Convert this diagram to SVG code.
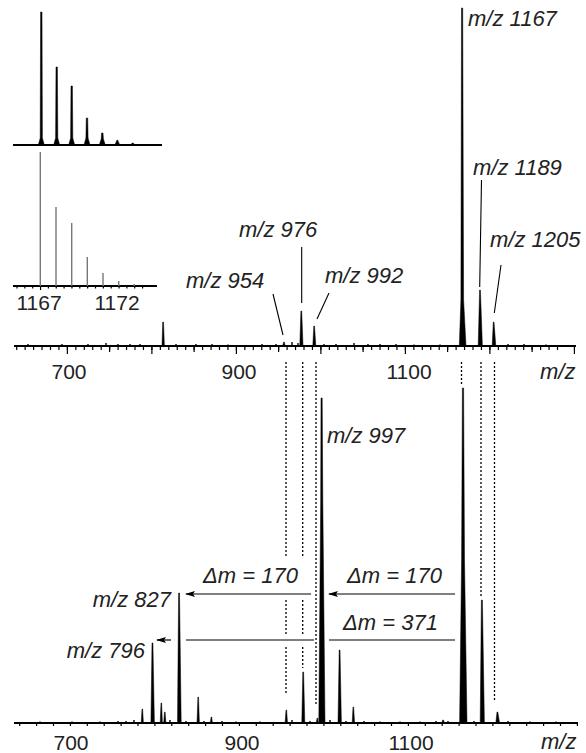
<svg xmlns="http://www.w3.org/2000/svg" width="586" height="753" viewBox="0 0 586 753">
<defs>
<style>
.ax{stroke:#000;stroke-width:1.8;fill:none}
.tk{stroke:#000;stroke-width:1.2;fill:none}
.pk{fill:#000;stroke:#000;stroke-width:0.5;stroke-linejoin:round}
.ln{stroke:#000;stroke-width:1.4;fill:none}
.ld{stroke:#000;stroke-width:1.1;fill:none}
.dot{stroke:#000;stroke-width:1.3;stroke-dasharray:2 2;fill:none}
.arr{stroke:#000;stroke-width:1.2;fill:none}
.gp{stroke:#777;stroke-width:1.4;fill:none}
.num{font-family:"Liberation Sans",Arial,sans-serif;font-size:21px;fill:#222}
.lab{font-family:"Liberation Sans",Arial,sans-serif;font-size:22px;font-style:italic;fill:#222}
</style>
<marker id="ah" viewBox="0 0 10 6" refX="9" refY="3" markerWidth="10" markerHeight="6" markerUnits="userSpaceOnUse" orient="auto">
<path d="M0,0 L10,3 L0,6 L2,3 Z" fill="#000"/>
</marker>
</defs>
<rect width="586" height="753" fill="#fff"/>

<g id="inset">
<line class="ax" x1="13" y1="145" x2="162" y2="145" stroke-width="2"/>
<path class="pk" d="M38.3,145 L40.2,138 L40.6,12 L42,12 L42.4,138 L44.3,145Z M53.7,145 L55.6,138 L56,67 L57.4,67 L57.8,138 L59.7,145Z M68.7,145 L70.6,138 L71,86 L72.4,86 L72.8,138 L74.7,145Z M84,145 L85.9,138 L86.3,118 L87.7,118 L88.1,138 L90,145Z M99.3,145 L101.2,139 L101.6,133 L103,133 L103.4,139 L105.3,145Z M114.8,145 L116.6,141 L117,140 L117.6,140 L118,141 L119.8,145Z M130.5,145 L132.2,143 L133.2,143 L134.9,145Z"/>
<line class="ax" x1="13" y1="286" x2="157" y2="286" stroke-width="1.5"/>
<path class="tk" d="M17,286v2.5m7.85-2.5v2.5m7.85-2.5v2.5m7.85-2.5v4m7.85-4v2.5m7.85-2.5v2.5m7.85-2.5v2.5m7.85-2.5v2.5m7.85-2.5v2.5m7.85-2.5v2.5m7.85-2.5v2.5m7.85-2.5v2.5m7.85-2.5v2.5m7.85-2.5v2.5m7.85-2.5v2.5m7.85-2.5v2.5m7.85-2.5v2.5"/>
<path class="gp" d="M40.3,286V152 M56,286V207 M71.7,286V223 M87.3,286V257 M103,286V273 M118.7,286V281 M134.3,286V284"/>
<text class="num" x="39" y="310" text-anchor="middle">1167</text>
<text class="num" x="117" y="310" text-anchor="middle">1172</text>
</g>

<g id="top-spectrum">
<line class="ax" x1="14" y1="346" x2="576" y2="346"/>
<path class="tk" d="M16.7,346v4m8.45-4v4m8.45-4v4m8.45-4v4m8.45-4v4m8.45-4v4m8.45-4v4m8.45-4v4m8.45-4v4m8.45-4v4m8.45-4v4m8.45-4v4m8.45-4v4m8.45-4v4m8.45-4v4m8.45-4v4m8.45-4v4m8.45-4v4m8.45-4v4m8.45-4v4m8.45-4v4m8.45-4v4m8.45-4v4m8.45-4v4m8.45-4v4m8.45-4v4m8.45-4v4m8.45-4v4m8.45-4v4m8.45-4v4m8.45-4v4m8.45-4v4m8.45-4v4m8.45-4v4m8.45-4v4m8.45-4v4m8.45-4v4m8.45-4v4m8.45-4v4m8.45-4v4m8.45-4v4m8.45-4v4m8.45-4v4m8.45-4v4m8.45-4v4m8.45-4v4m8.45-4v4m8.45-4v4m8.45-4v4m8.45-4v4m8.45-4v4m8.45-4v4m8.45-4v4m8.45-4v4m8.45-4v4m8.45-4v4m8.45-4v4m8.45-4v4m8.45-4v4m8.45-4v4m8.45-4v4m8.45-4v4m8.45-4v4m8.45-4v4m8.45-4v4"/>
<path class="tk" d="M67.4,346v8 M151.9,346v8 M236.4,346v8 M320.9,346v8 M405.4,346v8 M489.9,346v8 M574.4,346v8 M109.6,346v6 M194.1,346v6 M278.6,346v6 M363.1,346v6 M447.6,346v6 M532.1,346v6"/>
<path class="ln" d="M28,346v-2 M62,346v-2 M88,346v-2 M106,346v-3 M118,346v-2 M130,346v-2 M140,346v-2 M176,346v-2 M196,346v-2 M212,346v-2 M228,346v-1.5 M262,346v-2 M276,346v-2 M292,346v-4 M298,346v-3 M324,346v-2 M336,346v-2 M354,346v-3 M368,346v-2 M380,346v-2 M396,346v-2 M414,346v-1.5 M440,346v-1.5 M508,346v-2 M524,346v-2 M546,346v-1.5"/>
<path class="pk" d="M162,346 L162.7,322 L163.5,322 L164.4,346Z M282.6,346 L283.7,342 L284.3,342 L285.2,346Z M299.8,346 L300.9,311 L301.7,311 L303,346Z M312.8,346 L313.8,326 L314.5,326 L315.8,346Z M459.3,346 L460.9,300 L461.5,8 L462.7,8 L463.6,300 L466,346Z M478.2,346 L479.6,290 L480.4,290 L482.4,346Z M492.2,346 L493.3,322 L494,322 L495.8,346Z"/>
<path class="ld" d="M273,294 L283,335 M301.7,247 L301.7,303 M329,293 L317,319 M481.5,180 L479.7,287 M501,265 L494.3,313"/>
<text class="lab" x="468" y="26">m/z 1167</text>
<text class="lab" x="473" y="175">m/z 1189</text>
<text class="lab" x="490" y="247">m/z 1205</text>
<text class="lab" x="239" y="237">m/z 976</text>
<text class="lab" x="325" y="283">m/z 992</text>
<text class="lab" x="186" y="288">m/z 954</text>
<text class="num" x="69" y="379" text-anchor="middle">700</text>
<text class="num" x="239" y="379" text-anchor="middle">900</text>
<text class="num" x="409" y="379" text-anchor="middle">1100</text>
<text class="lab" x="540" y="379" font-size="21">m/z</text>
</g>

<g id="connectors">
<path class="dot" d="M286,362V557 M286,600V635 M286,647V695 M302.7,362V557 M302.7,600V635 M302.7,647V668 M316,362V705 M461.5,362V385 M481,362V598 M494.5,362V700"/>
<line class="arr" x1="311" y1="594" x2="186" y2="594" marker-end="url(#ah)"/>
<line class="arr" x1="455" y1="594" x2="329" y2="594" marker-end="url(#ah)"/>
<line class="arr" x1="455" y1="640" x2="329" y2="640"/>
<line class="arr" x1="314" y1="640" x2="186" y2="640"/>
<line class="arr" x1="171" y1="640" x2="157" y2="640" marker-end="url(#ah)"/>
<text class="lab" x="203" y="583">Δm = 170</text>
<text class="lab" x="347" y="583">Δm = 170</text>
<text class="lab" x="343" y="630">Δm = 371</text>
</g>

<g id="bottom-spectrum">
<line class="ax" x1="14" y1="723" x2="578" y2="723"/>
<path class="tk" d="M19.7,723v3m16.9-3v3m16.9-3v3m16.9-3v3m16.9-3v3m16.9-3v3m16.9-3v3m16.9-3v3m16.9-3v3m16.9-3v3m16.9-3v3m16.9-3v3m16.9-3v3m16.9-3v3m16.9-3v3m16.9-3v3m16.9-3v3m16.9-3v3m16.9-3v3m16.9-3v3m16.9-3v3m16.9-3v3m16.9-3v3m16.9-3v3m16.9-3v3m16.9-3v3m16.9-3v3m16.9-3v3m16.9-3v3m16.9-3v3m16.9-3v3m16.9-3v3m16.9-3v3m16.9-3v3"/>
<path class="ln" d="M40,723v-1.5 M72,723v-1.5 M100,723v-1.5 M118,723v-2 M126,723v-2 M134,723v-3 M170,723v-3 M186,723v-2 M204,723v-2 M222,723v-2 M236,723v-1.5 M260,723v-1.5 M292,723v-3 M310,723v-2 M330,723v-3 M346,723v-2 M364,723v-2 M380,723v-1.5 M400,723v-1.5 M420,723v-1.5 M436,723v-2 M448,723v-2 M474,723v-2 M508,723v-2 M530,723v-1.5 M556,723v-1.5"/>
<path class="pk" d="M141.2,723 L142,709 L142.6,709 L143.4,723Z M150.9,723 L152,643 L152.9,643 L154.4,723Z M160.2,723 L161,703 L161.6,703 L162.4,723Z M163.7,723 L164.5,712 L165.1,712 L165.9,723Z M177.5,723 L178.6,593 L179.5,593 L181.2,723Z M197,723 L197.9,697 L198.5,697 L199.4,723Z M210.3,723 L211.1,717 L211.7,717 L212.4,723Z M285.1,723 L286,710 L286.6,710 L287.5,723Z M301.8,723 L302.8,672 L303.6,672 L304.8,723Z M316.2,723 L317.1,718 L317.6,718 L318.2,723Z M318.8,723 L320.7,500 L321,398 L322.2,398 L322.8,500 L325,723Z M338,723 L339.2,650 L340,650 L341.4,723Z M352.2,723 L353,707 L353.6,707 L354.6,723Z M441.8,723 L442.7,720 L443.5,720 L444.4,723Z M459.6,723 L461.6,560 L462.4,388 L463.6,388 L464.5,560 L467,723Z M480.2,723 L481.4,600 L482.4,600 L484.4,723Z M495.8,723 L497,712 L497.8,712 L499.6,723Z"/>
<text class="lab" x="327" y="443">m/z 997</text>
<text class="lab" x="171" y="607" text-anchor="end">m/z 827</text>
<text class="lab" x="145" y="658" text-anchor="end">m/z 796</text>
<text class="num" x="71" y="750" text-anchor="middle">700</text>
<text class="num" x="242" y="750" text-anchor="middle">900</text>
<text class="num" x="411" y="750" text-anchor="middle">1100</text>
<text class="lab" x="541" y="749" font-size="21">m/z</text>
</g>
</svg>
